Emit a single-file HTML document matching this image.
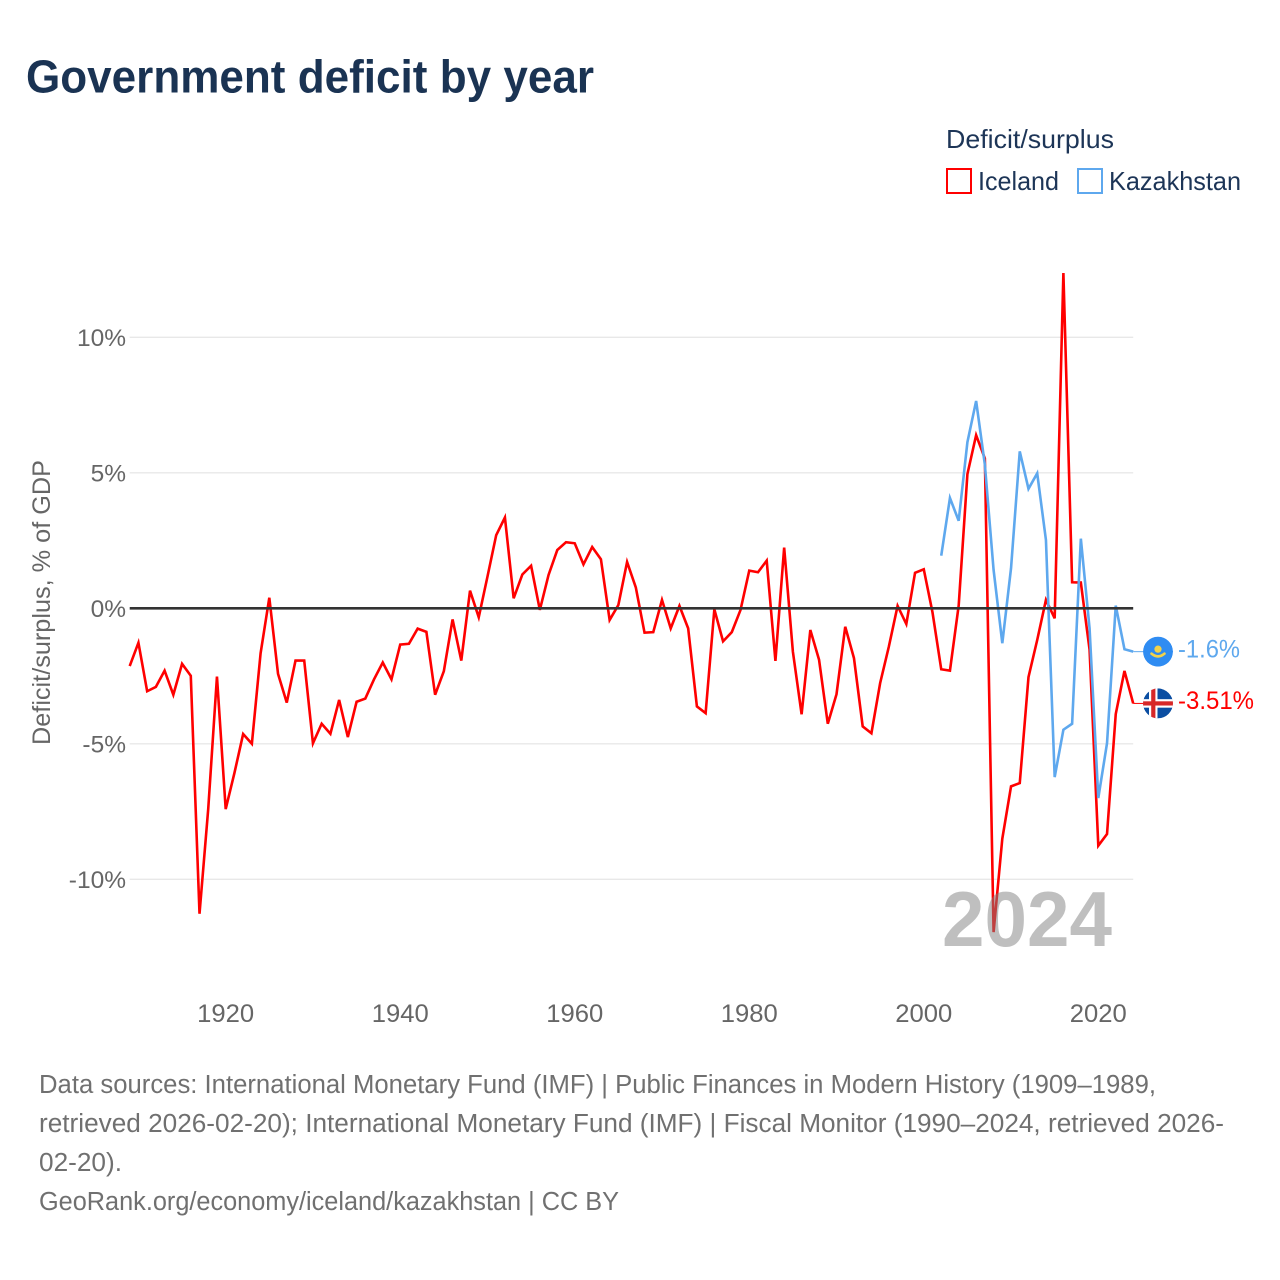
<!DOCTYPE html>
<html lang="en">
<head>
<meta charset="utf-8">
<title>Government deficit by year</title>
<style>
  html, body { margin: 0; padding: 0; background: #ffffff; }
  svg { display: block; font-family: "Liberation Sans", sans-serif; }
</style>
</head>
<body>
<svg id="chart" xmlns="http://www.w3.org/2000/svg" width="1280" height="1280" viewBox="0 0 1280 1280">
  <defs>
    <clipPath id="kz-clip"><circle id="kz-clip-circle" cx="1158" cy="651.8" r="15"></circle></clipPath>
    <clipPath id="is-clip"><circle id="is-clip-circle" cx="1158" cy="703.5" r="15"></circle></clipPath>
  </defs>

  <text x="26" y="92.5" font-size="46" font-weight="700" fill="#1a3353" textLength="568" lengthAdjust="spacingAndGlyphs">Government deficit by year</text>

  <g>
    <text x="946" y="148" font-size="26" fill="#1d3557" textLength="168" lengthAdjust="spacingAndGlyphs">Deficit/surplus</text>
    <rect x="947" y="169" width="24" height="24" fill="none" stroke="#ff0000" stroke-width="2"></rect>
    <text x="978" y="190" font-size="26" fill="#1d3557" textLength="81" lengthAdjust="spacingAndGlyphs">Iceland</text>
    <rect x="1078" y="169" width="24" height="24" fill="none" stroke="#5ea8ee" stroke-width="2"></rect>
    <text x="1109" y="190" font-size="26" fill="#1d3557" textLength="132" lengthAdjust="spacingAndGlyphs">Kazakhstan</text>
  </g>

  <text transform="translate(50 602.5) rotate(-90)" text-anchor="middle" font-size="25" fill="#666666" textLength="285" lengthAdjust="spacingAndGlyphs">Deficit/surplus, % of GDP</text>

  <g id="grid"></g>
  <g id="y-ticks"></g>
  <g id="x-ticks"></g>

  <g id="series"></g>

  <line id="zero-line" stroke="#333333" stroke-width="2.6"></line>

  <text x="942" y="946" font-size="78" font-weight="700" fill="#808080" fill-opacity="0.5" textLength="170" lengthAdjust="spacingAndGlyphs">2024</text>

  <g id="kz-end">
    <line id="kz-connector" stroke="#5ea8ee" stroke-width="1"></line>
    <g clip-path="url(#kz-clip)" id="kz-flag">
      <circle id="kz-bg" cx="1158" cy="651.8" r="15" fill="#2f8cf2"></circle>
      <circle id="kz-sun" cx="1158" cy="649.8" r="3.6" fill="#f3d24a"></circle>
      <path id="kz-eagle" fill="none" stroke="#f3d24a" stroke-width="2.6" stroke-linecap="round"></path>
    </g>
    <text id="kz-label" x="1178" font-size="25" fill="#5ea8ee" textLength="62" lengthAdjust="spacingAndGlyphs"></text>
  </g>

  <g id="is-end">
    <line id="is-connector" stroke="#ff0000" stroke-width="1"></line>
    <g clip-path="url(#is-clip)" id="is-flag">
      <circle id="is-bg" cx="1158" cy="703.5" r="15" fill="#0b4ea2"></circle>
      <rect id="is-w-v" x="1149" width="8.5" y="688" height="31" fill="#ffffff"></rect>
      <rect id="is-w-h" x="1143" width="30" y="699.2" height="8.5" fill="#ffffff"></rect>
      <rect id="is-r-v" x="1151.2" width="4.2" y="688" height="31" fill="#d72828"></rect>
      <rect id="is-r-h" x="1143" width="30" y="701.4" height="4.2" fill="#d72828"></rect>
    </g>
    <text id="is-label" x="1178" font-size="25" fill="#ff0000" textLength="76" lengthAdjust="spacingAndGlyphs"></text>
  </g>

  <g font-size="25.5" fill="#707070">
    <text x="39" y="1093" textLength="1117" lengthAdjust="spacingAndGlyphs">Data sources: International Monetary Fund (IMF) | Public Finances in Modern History (1909–1989,</text>
    <text x="39" y="1132" textLength="1185" lengthAdjust="spacingAndGlyphs">retrieved 2026-02-20); International Monetary Fund (IMF) | Fiscal Monitor (1990–2024, retrieved 2026-</text>
    <text x="39" y="1171" textLength="83" lengthAdjust="spacingAndGlyphs">02-20).</text>
    <text x="39" y="1210" textLength="580" lengthAdjust="spacingAndGlyphs">GeoRank.org/economy/iceland/kazakhstan | CC BY</text>
  </g>
</svg>

<script>
const yTickValues = [10, 5, 0, -5, -10];
const xTickYears = [1920, 1940, 1960, 1980, 2000, 2020];

const icelandFirstYear = 1909;
const icelandValues = [
  -2.13, -1.27, -3.06, -2.90, -2.30, -3.19, -2.05, -2.49, -11.27, -7.40,
  -2.52, -7.41, -6.08, -4.64, -5.00, -1.66, 0.39, -2.42, -3.48, -1.93,
  -1.93, -4.98, -4.26, -4.63, -3.38, -4.75, -3.45, -3.33, -2.62, -2.00,
  -2.62, -1.34, -1.31, -0.75, -0.87, -3.19, -2.32, -0.41, -1.93, 0.65,
  -0.33, 1.17, 2.70, 3.35, 0.37, 1.25, 1.57, -0.06, 1.23, 2.15,
  2.44, 2.40, 1.62, 2.26, 1.81, -0.43, 0.12, 1.71, 0.77, -0.90,
  -0.88, 0.31, -0.74, 0.09, -0.74, -3.62, -3.87, -0.04, -1.22, -0.88,
  -0.06, 1.39, 1.33, 1.76, -1.94, 2.24, -1.60, -3.91, -0.80, -1.90,
  -4.26, -3.17, -0.68, -1.84, -4.36, -4.61, -2.76, -1.41, 0.09, -0.58,
  1.31, 1.44, -0.15, -2.25, -2.30, 0.10, 4.95, 6.39, 5.53, -11.95,
  -8.50, -6.57, -6.45, -2.54, -1.17, 0.31, -0.37, 12.37, 0.96, 0.95,
  -1.53, -8.76, -8.33, -3.90, -2.31, -3.51
];

const kazakhstanFirstYear = 2002;
const kazakhstanValues = [
  1.94, 4.07, 3.23, 6.13, 7.65, 5.30, 1.42, -1.29, 1.48, 5.79,
  4.41, 4.98, 2.52, -6.23, -4.48, -4.26, 2.57, -0.74, -7.00, -4.98,
  0.10, -1.51, -1.60
];

const SVG_NS = 'http://www.w3.org/2000/svg';
const plotLeft = 129.7;
const plotRight = 1133.2;
const domainStart = 1909;
const domainEnd = 2024;

function xScale(year) {
  return plotLeft + (year - domainStart) * (plotRight - plotLeft) / (domainEnd - domainStart);
}
function yScale(value) {
  return 608.3 - value * 27.1;
}
function linePath(firstYear, values) {
  return values.map(function (v, i) {
    return (i ? 'L' : 'M') + xScale(firstYear + i).toFixed(2) + ' ' + yScale(v).toFixed(2);
  }).join(' ');
}
function make(tag, parentId) {
  const el = document.createElementNS(SVG_NS, tag);
  document.getElementById(parentId).appendChild(el);
  return el;
}

yTickValues.forEach(function (v) {
  if (v !== 0) {
    const grid = make('line', 'grid');
    
    
    grid.setAttribute('x1', plotLeft);
    grid.setAttribute('x2', plotRight);
    grid.setAttribute('y1', yScale(v));
    grid.setAttribute('y2', yScale(v));
    grid.setAttribute('stroke', '#e8e8e8');
    grid.setAttribute('stroke-width', '1.3');
  }
  const label = make('text', 'y-ticks');
  
  
  label.setAttribute('x', 126);
  label.setAttribute('y', yScale(v) + 8.6);
  label.setAttribute('text-anchor', 'end');
  label.setAttribute('font-size', '24.5');
  label.setAttribute('fill', '#666666');
  label.textContent = v + '%';
});

xTickYears.forEach(function (year) {
  const label = make('text', 'x-ticks');
  
  
  label.setAttribute('x', xScale(year));
  label.setAttribute('y', 1022);
  label.setAttribute('text-anchor', 'middle');
  label.setAttribute('font-size', '25');
  label.setAttribute('fill', '#666666');
  label.setAttribute('textLength', '57');
  label.setAttribute('lengthAdjust', 'spacingAndGlyphs');
  label.textContent = year;
});

const zeroLine = document.getElementById('zero-line');
zeroLine.setAttribute('x1', plotLeft);
zeroLine.setAttribute('x2', plotRight);
zeroLine.setAttribute('y1', yScale(0));
zeroLine.setAttribute('y2', yScale(0));

const icelandLine = make('path', 'series');


icelandLine.setAttribute('d', linePath(icelandFirstYear, icelandValues));
icelandLine.setAttribute('fill', 'none');
icelandLine.setAttribute('stroke', '#ff0000');
icelandLine.setAttribute('stroke-width', '2.6');
icelandLine.setAttribute('stroke-linejoin', 'miter');

const kazakhstanLine = make('path', 'series');


kazakhstanLine.setAttribute('d', linePath(kazakhstanFirstYear, kazakhstanValues));
kazakhstanLine.setAttribute('fill', 'none');
kazakhstanLine.setAttribute('stroke', '#5ea8ee');
kazakhstanLine.setAttribute('stroke-width', '2.6');
kazakhstanLine.setAttribute('stroke-linejoin', 'miter');

function placeEnd(values, connectorId, labelId) {
  const last = values[values.length - 1];
  const y = yScale(last);
  const connector = document.getElementById(connectorId);
  connector.setAttribute('x1', plotRight);
  connector.setAttribute('x2', 1143);
  connector.setAttribute('y1', y);
  connector.setAttribute('y2', y);
  const label = document.getElementById(labelId);
  label.setAttribute('y', y + 5.8);
  label.textContent = last + '%';
  return y;
}

const kzY = placeEnd(kazakhstanValues, 'kz-connector', 'kz-label');
const isY = placeEnd(icelandValues, 'is-connector', 'is-label');

document.getElementById('kz-clip-circle').setAttribute('cy', kzY);
document.getElementById('kz-bg').setAttribute('cy', kzY);
document.getElementById('kz-sun').setAttribute('cy', kzY - 2.5);
document.getElementById('kz-eagle').setAttribute('d',
  'M1151.5 ' + (kzY + 2) + ' Q1158 ' + (kzY + 7.5) + ' 1164.5 ' + (kzY + 2));

document.getElementById('is-clip-circle').setAttribute('cy', isY);
document.getElementById('is-bg').setAttribute('cy', isY);
document.getElementById('is-w-v').setAttribute('y', isY - 16);
document.getElementById('is-r-v').setAttribute('y', isY - 16);
document.getElementById('is-w-h').setAttribute('y', isY - 4.25);
document.getElementById('is-r-h').setAttribute('y', isY - 2.1);
</script>
</body>
</html>
